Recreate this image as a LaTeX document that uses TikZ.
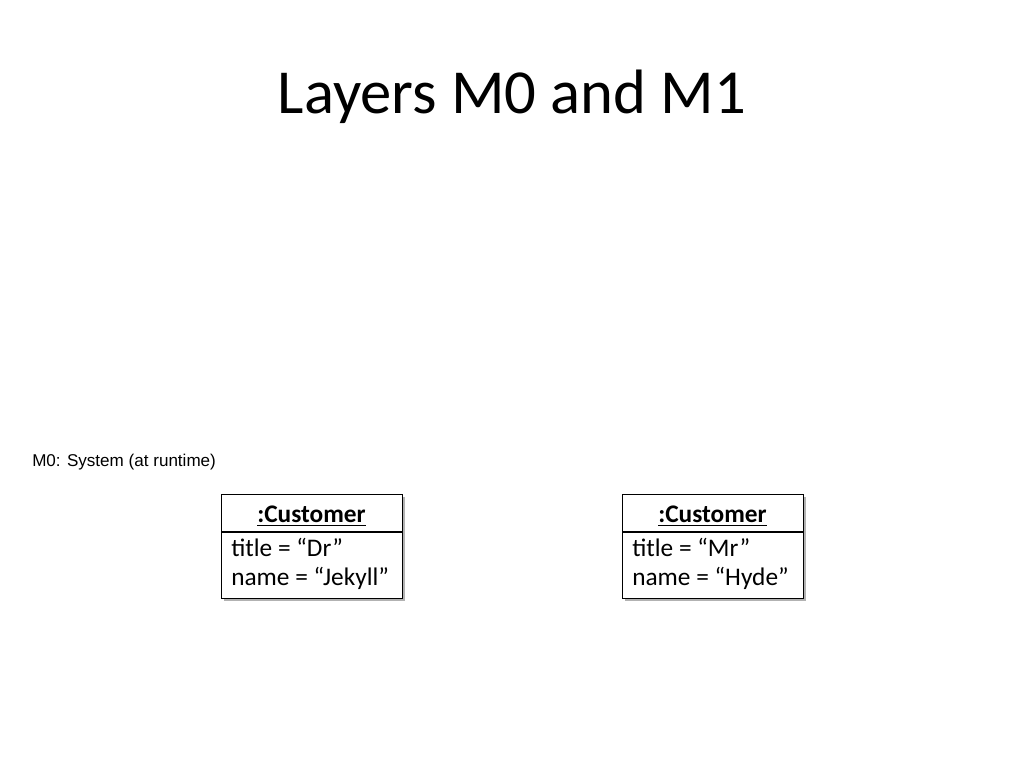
\documentclass[tikz,border=0pt]{standalone}
\usepackage{fontspec}
\setmainfont{Carlito}
\newfontfamily\arial{Liberation Sans}
\begin{document}
\begin{tikzpicture}[x=0.75pt,y=-0.75pt,
  obj/.style={draw,line width=1pt,fill=white,minimum width=181*0.75pt,minimum height=104*0.75pt,inner sep=0pt},
  txt/.style={font=\fontsize{19}{23}\selectfont,anchor=west,inner sep=0pt}]
\useasboundingbox (0,0) rectangle (1024,768);
\node[font=\fontsize{47}{56}\selectfont] (title) at (512,97) {Layers M0 and M1};
\node[font=\arial\fontsize{12.8}{15}\selectfont,anchor=west,inner sep=0pt] (lbl) at (32,462) {M0: System (at runtime)};
\foreach \n/\x/\t/\m in {a/221/Dr/Jekyll, b/622/Mr/Hyde}{
  \fill[gray!60] (\x+3,497) rectangle (\x+184,601);
  \node[obj,anchor=north west] (\n) at (\x,494) {};
  \draw[line width=1pt] (\x,532) -- (\x+181,532);
  \node[font=\fontsize{19}{23}\selectfont\bfseries,inner sep=0pt] (\n h) at (\x+90.5,516) {\underline{:Customer}};
  \node[txt] (\n 1) at (\x+10,547) {title = “\t”};
  \node[txt] (\n 2) at (\x+10,578) {name = “\m”};
}
\end{tikzpicture}
\end{document}
